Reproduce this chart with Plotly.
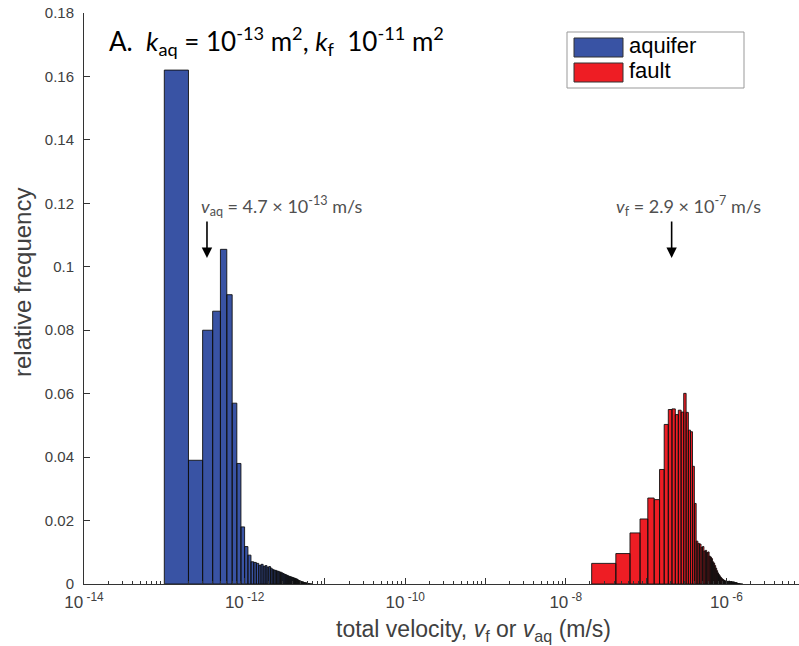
import plotly.graph_objects as go
import numpy as np

# ---------------- data ----------------
# Aquifer histogram: linear bins of constant width, first edge, relative frequency per bin
aq_first_edge = 1.0e-13
aq_bin_width = 1.0e-13
aq_freq = [0.162, 0.039, 0.080, 0.086, 0.1055, 0.0912, 0.057, 0.038, 0.018, 0.0118,
           0.0091, 0.0070, 0.0068, 0.0065, 0.0059, 0.0062, 0.0056, 0.0058, 0.0053, 0.0055,
           0.0050, 0.0046, 0.0044, 0.0043, 0.0041, 0.0040, 0.0038, 0.0037, 0.0035, 0.0033,
           0.0031, 0.0030, 0.0028, 0.0027, 0.0025, 0.0024, 0.0023, 0.0022, 0.0021, 0.0020,
           0.0019, 0.0018, 0.0017, 0.0016, 0.0015, 0.0014, 0.0013, 0.0012, 0.0011, 0.0010,
           0.0009, 0.0008, 0.0008, 0.0007, 0.0006, 0.0006, 0.0005, 0.0005, 0.0004, 0.0004,
           0.0003, 0.0003, 0.0002, 0.0002, 0.0002, 0.0001, 0.0001, 0.0001, 0.0001, 0.0001]

# Fault histogram
fault_first_edge = 2.1e-8
fault_bin_width = 2.1e-8
fault_freq = [0.0065, 0.0096, 0.0161, 0.0205, 0.0271, 0.0266, 0.0361, 0.0503, 0.0550, 0.0552,
              0.0534, 0.0548, 0.0542, 0.0601, 0.0541, 0.0485, 0.0480, 0.0371, 0.0254, 0.0135,
              0.0128, 0.0126, 0.0116, 0.0118, 0.0104, 0.0106, 0.0099, 0.0101, 0.0088, 0.0085,
              0.0080, 0.0070, 0.0066, 0.0058, 0.0050, 0.0042, 0.0035, 0.0030, 0.0026, 0.0022,
              0.0019, 0.0016, 0.0014, 0.0012, 0.0011, 0.0010, 0.0010, 0.0009, 0.0009, 0.0010,
              0.0009, 0.0010, 0.0009, 0.0008, 0.0009, 0.0008, 0.0007, 0.0008, 0.0006, 0.0007,
              0.0006, 0.0005, 0.0006, 0.0004, 0.0004, 0.0003, 0.0003, 0.0002, 0.0002, 0.0002,
              0.0001, 0.0001, 0.0001, 0.0, 0.0001]

# Annotated mean velocities (arrow positions as drawn)
aq_arrow_v = 3.4e-13
fault_arrow_v = 2.08e-7
arrow_tip_y = 0.1028

# Axis ticks
x_tick_exps = list(range(-14, -4))
y_tick_vals = [0, 0.02, 0.04, 0.06, 0.08, 0.1, 0.12, 0.14, 0.16, 0.18]
y_tick_text = ["0", "0.02", "0.04", "0.06", "0.08", "0.1", "0.12", "0.14", "0.16", "0.18"]

AQ_COLOR = "#3953A4"
FAULT_COLOR = "#EE1D24"
GRAY = "#404040"
SANS = "Liberation Sans, Arial, Helvetica, sans-serif"
HUMANIST = "Lato, Open Sans, sans-serif"


def bar_polys(first, width, freqs):
    xs, ys = [], []
    for i, f in enumerate(freqs):
        x0 = first + i * width
        x1 = x0 + width
        xs += [x0, x0, x1, x1, x0, None]
        ys += [0, f, f, 0, 0, None]
    return xs, ys


fig = go.Figure()
for first, width, freqs, col, name in [
    (aq_first_edge, aq_bin_width, aq_freq, AQ_COLOR, "aquifer"),
    (fault_first_edge, fault_bin_width, fault_freq, FAULT_COLOR, "fault"),
]:
    xs, ys = bar_polys(first, width, freqs)
    fig.add_trace(go.Scatter(x=xs, y=ys, mode="lines", fill="toself", fillcolor=col,
                             line=dict(color="#111111", width=0.9), name=name,
                             showlegend=False, hoverinfo="skip"))

# axis ticks
major_vals = [10.0 ** e for e in x_tick_exps]
major_text = [("10<sup> %d</sup>" % e) if e % 2 == 0 else "" for e in x_tick_exps]
minor_vals = [m * 10.0 ** e for e in x_tick_exps for m in range(2, 10)]

x_lo = -14
x_hi = -14 + 715 / 80.3

fig.update_xaxes(type="log", range=[x_lo, x_hi], tickvals=major_vals, ticktext=major_text,
                 ticks="inside", ticklen=6, tickcolor="#333", tickwidth=1,
                 showline=True, linecolor="#333", linewidth=1, showgrid=False, zeroline=False,
                 tickfont=dict(family=SANS, size=17, color=GRAY), ticklabelstandoff=3,
                 minor=dict(tickvals=minor_vals, ticks="inside", ticklen=3, tickcolor="#333",
                            showgrid=False))
fig.update_yaxes(range=[0, 0.18], tickvals=y_tick_vals, ticktext=y_tick_text,
                 ticks="inside", ticklen=6, tickcolor="#333", tickwidth=1,
                 showline=True, linecolor="#333", linewidth=1, showgrid=False, zeroline=False,
                 tickfont=dict(family=SANS, size=15, color=GRAY), ticklabelstandoff=6)

L, T, W, H = 84, 13, 715, 571


def px(x):
    return (x - L) / W


def py(y):
    return (T + H - y) / H


annotations = []
# title
annotations.append(dict(xref="paper", yref="paper", x=px(107), y=py(41), xanchor="left", yanchor="middle",
                        showarrow=False,
                        text="A.  <i>k</i><sub>aq</sub> = 10<sup>-13</sup> m<sup>2</sup>, <i>k</i><sub>f</sub>  10<sup>-11</sup> m<sup>2</sup>",
                        font=dict(family=HUMANIST, size=26, color="black")))
# arrows
for v in (aq_arrow_v, fault_arrow_v):
    annotations.append(dict(x=np.log10(v), y=arrow_tip_y, xref="x", yref="y", text="",
                            showarrow=True, arrowhead=2, arrowsize=1.3, arrowwidth=1.6,
                            arrowcolor="black", ax=0, ay=-38))
annotations.append(dict(xref="paper", yref="paper", x=px(199), y=py(206), xanchor="left", yanchor="middle",
                        showarrow=False,
                        text="<i>v</i><sub>aq</sub> = 4.7 × 10<sup>-13</sup> m/s",
                        font=dict(family=HUMANIST, size=18, color="#505050")))
annotations.append(dict(xref="paper", yref="paper", x=px(614), y=py(206), xanchor="left", yanchor="middle",
                        showarrow=False,
                        text="<i>v</i><sub>f</sub> = 2.9 × 10<sup>-7</sup> m/s",
                        font=dict(family=HUMANIST, size=18, color="#505050")))
# axis titles
annotations.append(dict(xref="paper", yref="paper", x=px(474), y=py(630), xanchor="center", yanchor="middle",
                        showarrow=False,
                        text="total velocity, <i>v</i><sub>f</sub> or <i>v</i><sub>aq</sub> (m/s)",
                        font=dict(family=SANS, size=23, color=GRAY)))
annotations.append(dict(xref="paper", yref="paper", x=px(22), y=py(283), xanchor="center", yanchor="middle",
                        showarrow=False, textangle=-90,
                        text="relative frequency",
                        font=dict(family=SANS, size=24, color=GRAY)))
# legend labels
annotations.append(dict(xref="paper", yref="paper", x=px(627), y=py(45), xanchor="left", yanchor="middle",
                        showarrow=False, text="aquifer", font=dict(family=SANS, size=22, color="black")))
annotations.append(dict(xref="paper", yref="paper", x=px(627), y=py(70), xanchor="left", yanchor="middle",
                        showarrow=False, text="fault", font=dict(family=SANS, size=22, color="black")))

shapes = [
    dict(type="rect", xref="paper", yref="paper", x0=px(567), x1=px(744), y0=py(32), y1=py(88),
         line=dict(color="#999999", width=1), fillcolor="white"),
    dict(type="rect", xref="paper", yref="paper", x0=px(574), x1=px(623), y0=py(38), y1=py(57),
         line=dict(color="#333333", width=1), fillcolor=AQ_COLOR),
    dict(type="rect", xref="paper", yref="paper", x0=px(574), x1=px(623), y0=py(63), y1=py(82),
         line=dict(color="#333333", width=1), fillcolor=FAULT_COLOR),
]

fig.update_layout(width=799, height=646, margin=dict(l=L, r=799 - L - W, t=T, b=646 - T - H),
                  plot_bgcolor="white", paper_bgcolor="white", showlegend=False,
                  annotations=annotations, shapes=shapes)

fig.write_html("out.html")
